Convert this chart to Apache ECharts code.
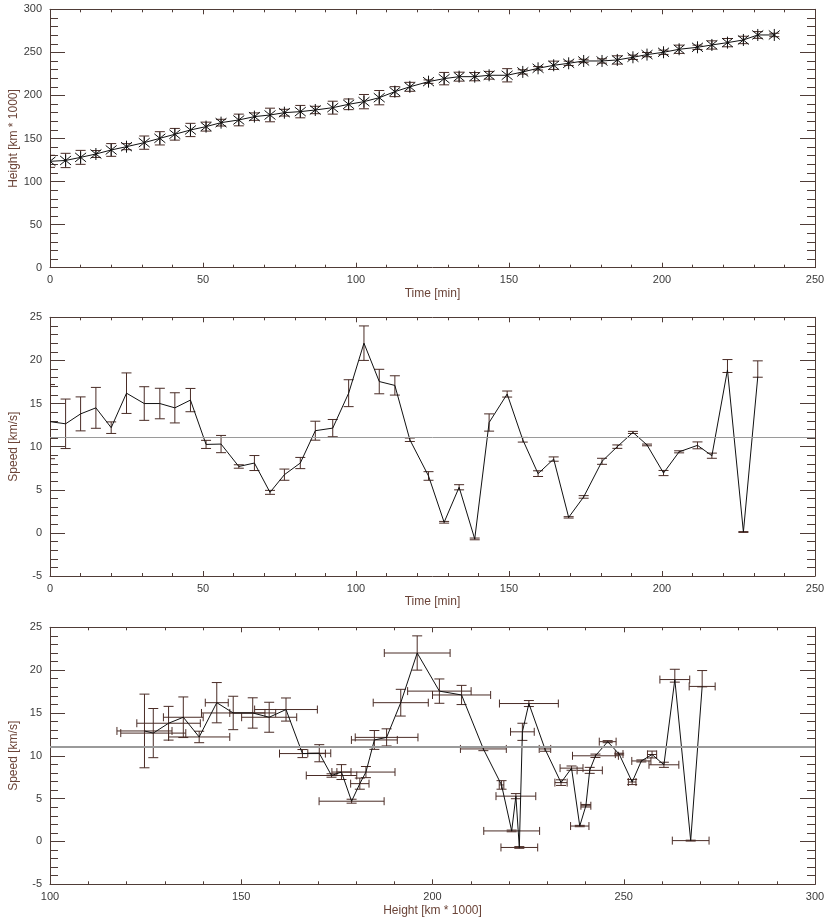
<!DOCTYPE html>
<html>
<head>
<meta charset="utf-8">
<script src="https://cdn.jsdelivr.net/npm/echarts@6/dist/echarts.min.js"></script>
<style>
html,body{margin:0;padding:0;background:#fff;}
#c{width:824px;height:918px;}
</style>
</head>
<body>
<div id="c"></div>
<script>
// ---- data ----
const times = [0, 5.1, 10, 15, 20, 25, 30.8, 35.9, 40.8, 45.9, 51, 55.9, 61.7, 66.8, 71.9, 76.6, 81.8, 86.7, 92.4, 97.6, 102.6, 107.6, 112.7, 117.6, 123.7, 128.8, 133.7, 138.8, 143.5, 149.4, 154.5, 159.5, 164.6, 169.5, 174.4, 180.4, 185.4, 190.5, 195.1, 200.5, 205.6, 211.6, 216.3, 221.4, 226.6, 231.3, 236.7];
const heights = [123.5, 124.5, 128.1, 132, 136.7, 140.5, 145.2, 150.2, 154.9, 159.9, 163.8, 168.4, 171.5, 175.4, 177.3, 180, 181.2, 183.1, 185.8, 189.7, 192.8, 197.4, 204.4, 210, 216, 219.5, 221.8, 221.8, 223.4, 223.4, 227.3, 231.5, 235, 237.3, 240, 240, 241.2, 244.3, 247.4, 250.1, 253.6, 255.9, 258.6, 261.3, 264.4, 270.2, 270.2];
const heightErr = [7, 8.3, 8.1, 4, 7.4, 3.5, 7.7, 7.7, 6.8, 7.7, 5.2, 3.9, 6.8, 4.3, 7.9, 3.9, 7.2, 4.3, 7.5, 6.2, 8.3, 8.3, 5.8, 5.2, 2, 7.2, 5.2, 4.8, 4.5, 7.7, 2.5, 2, 4.8, 2.5, 2, 2.5, 4.8, 2.5, 2.5, 2.5, 4.8, 2.5, 4.8, 4.8, 4.3, 3.9, 2];

const speedTimes = [0, 5.1, 10, 15, 20, 25, 30.8, 35.9, 40.8, 45.9, 51, 55.9, 61.7, 66.8, 71.9, 76.6, 81.8, 86.7, 92.4, 97.6, 102.6, 107.6, 112.7, 117.6, 123.7, 128.8, 133.7, 138.8, 143.5, 149.4, 154.5, 159.5, 164.6, 169.5, 174.4, 180.4, 185.4, 190.5, 195.1, 200.5, 205.6, 211.6, 216.3, 221.4, 226.6, 231.3];
const speeds = [12.9, 12.65, 13.8, 14.5, 12.2, 16.2, 15.0, 15.0, 14.5, 15.4, 10.26, 10.3, 7.7, 8.1, 4.7, 6.75, 8.1, 11.85, 12.15, 16.2, 22.0, 17.55, 17.1, 10.8, 6.6, 1.23, 5.29, -0.7, 12.8, 16.1, 10.8, 6.87, 8.56, 1.8, 4.17, 8.3, 10.0, 11.65, 10.2, 6.94, 9.4, 10.15, 8.95, 18.9, 0.1, 18.1];
const speedErrUp = [4.3, 2.87, 1.97, 2.37, 0.67, 2.35, 1.95, 1.77, 1.75, 1.35, 0.47, 1.0, 0.2, 0.87, 0.23, 0.65, 0.65, 1.1, 1.0, 1.56, 2.0, 1.42, 1.12, 0.2, 0.5, 0.1, 0.3, 0.1, 1.0, 0.35, 0.27, 0.33, 0.25, 0.08, 0.15, 0.35, 0.2, 0.12, 0.1, 0.3, 0.12, 0.4, 0.3, 1.2, 0.05, 1.85];
const speedErrDown = [4.3, 2.87, 1.97, 2.37, 0.67, 2.35, 1.95, 1.77, 1.75, 1.35, 0.47, 1.0, 0.2, 0.87, 0.23, 0.65, 0.65, 1.1, 1.0, 1.56, 2.0, 1.42, 1.12, 0.2, 0.5, 0.1, 0.3, 0.1, 1.0, 0.35, 0.27, 0.33, 0.25, 0.08, 0.15, 0.35, 0.2, 0.12, 0.1, 0.3, 0.12, 0.4, 0.3, 0.3, 0.05, 0.05];
const speedHeights = [124.7, 127.0, 131.0, 134.85, 139.0, 143.6, 147.9, 153.0, 157.3, 161.7, 166.0, 170.4, 173.6, 176.2, 178.85, 181.0, 182.6, 184.8, 188.0, 191.7, 196.0, 201.8, 207.6, 213.3, 218.05, 220.7, 221.8, 222.7, 223.5, 225.2, 229.4, 233.6, 236.35, 238.5, 240.1, 241.1, 242.6, 245.8, 248.8, 252.2, 254.6, 257.4, 260.5, 263.35, 267.5, 270.5];
const speedHeightErr = [7.2, 8.5, 8.3, 5.2, 8.0, 3, 8.3, 6, 7.2, 8.2, 6, 3, 6.6, 2.5, 8.5, 2.4, 7.6, 6, 8.2, 7.2, 8.6, 8.3, 7.6, 6, 0.6, 7.3, 5.2, 4.8, 3.1, 7.7, 1.5, 1.6, 3, 2.4, 1.3, 3.3, 6, 2.2, 1, 1, 2.5, 1.2, 3.9, 3.9, 4.8, 3.4];
const meanSpeed = 11.1;

const timeAxisTicks = {min: 0, max: 250, interval: 50};
const heightAxisTicks = {min: 0, max: 300, interval: 50};
const speedAxisTicks = {min: -5, max: 25, interval: 5};
const heightXAxisTicks = {min: 100, max: 300, interval: 50};

// ---- styles ----
const axisColor = '#4f3c37';
const labelColor = '#3a3a3a';
const nameColor = '#6b4438';
const barColor = '#4a2c26';
const FONT = 'Liberation Sans';

const chart = echarts.init(document.getElementById('c'), null, {renderer: 'canvas'});

function xAxisDef(g, ticks, name, pos) {
  const main = pos === 'bottom';
  return {
    gridIndex: g, type: 'value', position: pos,
    min: ticks.min, max: ticks.max, interval: ticks.interval,
    name: main ? name : '', nameLocation: 'middle', nameGap: 20, nameMoveOverlap: false,
    nameTextStyle: {color: nameColor, fontSize: 12, fontFamily: FONT},
    axisLine: {show: true, onZero: false, lineStyle: {color: axisColor, width: 1}},
    axisTick: {show: true, inside: true, length: 5, lineStyle: {color: axisColor, width: 1}},
    minorTick: {show: true, splitNumber: 5, length: 3, lineStyle: {color: axisColor, width: 1}},
    axisLabel: {show: main, margin: 7, color: labelColor, fontSize: 11, fontFamily: FONT},
    splitLine: {show: false}, minorSplitLine: {show: false}
  };
}
function yAxisDef(g, ticks, name, pos) {
  const main = pos === 'left';
  return {
    gridIndex: g, type: 'value', position: pos,
    min: ticks.min, max: ticks.max, interval: ticks.interval,
    name: main ? name : '', nameLocation: 'middle', nameGap: 30, nameMoveOverlap: false,
    nameTextStyle: {color: nameColor, fontSize: 12, fontFamily: FONT},
    axisLine: {show: true, onZero: false, lineStyle: {color: axisColor, width: 1}},
    axisTick: {show: true, inside: true, length: 15, lineStyle: {color: axisColor, width: 1}},
    minorTick: {show: true, splitNumber: 5, length: 8, lineStyle: {color: axisColor, width: 1}},
    axisLabel: {show: main, margin: 8, color: labelColor, fontSize: 11, fontFamily: FONT},
    splitLine: {show: false}, minorSplitLine: {show: false}
  };
}

function seg(a, b) {
  return {type: 'line', shape: {x1: a[0], y1: a[1], x2: b[0], y2: b[1]}, style: {stroke: barColor, lineWidth: 1}};
}
function segK(a, b) {
  return {type: 'line', shape: {x1: a[0], y1: a[1], x2: b[0], y2: b[1]}, style: {stroke: '#111', lineWidth: 1}};
}

// top: vertical error + asterisk
function renderTop(params, api) {
  const x = api.value(0), y = api.value(1), e = api.value(2);
  const p = api.coord([x, y]);
  const hi = api.coord([x, y + e]);
  const lo = api.coord([x, y - e]);
  const cw = 5;
  const ch = [
    seg(hi, lo),
    seg([hi[0] - cw, hi[1]], [hi[0] + cw, hi[1]]),
    seg([lo[0] - cw, lo[1]], [lo[0] + cw, lo[1]]),
    segK([p[0], p[1] - 6], [p[0], p[1] + 6]),
    segK([p[0] - 5.5, p[1] - 4.5], [p[0] + 5.5, p[1] + 4.5]),
    segK([p[0] - 5.5, p[1] + 4.5], [p[0] + 5.5, p[1] - 4.5])
  ];
  return {type: 'group', children: ch};
}
// middle: vertical error (asymmetric)
function renderMid(params, api) {
  const x = api.value(0), y = api.value(1), up = api.value(2), dn = api.value(3);
  const hi = api.coord([x, y + up]);
  const lo = api.coord([x, y - dn]);
  const cw = 5;
  return {type: 'group', children: [
    seg(hi, lo),
    seg([hi[0] - cw, hi[1]], [hi[0] + cw, hi[1]]),
    seg([lo[0] - cw, lo[1]], [lo[0] + cw, lo[1]])
  ]};
}
// bottom: x and y errors
function renderBot(params, api) {
  const x = api.value(0), y = api.value(1), xe = api.value(2), up = api.value(3), dn = api.value(4);
  const hi = api.coord([x, y + up]);
  const lo = api.coord([x, y - dn]);
  const le = api.coord([x - xe, y]);
  const ri = api.coord([x + xe, y]);
  const cw = 5, chh = 4;
  return {type: 'group', children: [
    seg(hi, lo),
    seg([hi[0] - cw, hi[1]], [hi[0] + cw, hi[1]]),
    seg([lo[0] - cw, lo[1]], [lo[0] + cw, lo[1]]),
    seg(le, ri),
    seg([le[0], le[1] - chh], [le[0], le[1] + chh]),
    seg([ri[0], ri[1] - chh], [ri[0], ri[1] + chh])
  ]};
}

const topData = times.map((t, i) => [t, heights[i], heightErr[i]]);
const midData = speedTimes.map((t, i) => [t, speeds[i], speedErrUp[i], speedErrDown[i]]);
const botData = speedHeights.map((h, i) => [h, speeds[i], speedHeightErr[i], speedErrUp[i], speedErrDown[i]]);

const meanLine = (w) => ({
  silent: true, symbol: 'none', label: {show: false},
  lineStyle: {color: '#9a9a9a', width: w, type: 'solid'},
  emphasis: {disabled: true},
  data: [{yAxis: meanSpeed}]
});

const option = {
  backgroundColor: '#fff',
  animation: false,
  grid: [
    {left: 50, right: 9, top: 9.3, height: 258.4, containLabel: false, outerBoundsMode: 'none'},
    {left: 50, right: 9, top: 317.3, height: 258.7, containLabel: false, outerBoundsMode: 'none'},
    {left: 50, right: 9, top: 627.3, height: 257, containLabel: false, outerBoundsMode: 'none'}
  ],
  xAxis: [
    xAxisDef(0, timeAxisTicks, 'Time [min]', 'bottom'),
    xAxisDef(0, timeAxisTicks, '', 'top'),
    xAxisDef(1, timeAxisTicks, 'Time [min]', 'bottom'),
    xAxisDef(1, timeAxisTicks, '', 'top'),
    xAxisDef(2, heightXAxisTicks, 'Height [km * 1000]', 'bottom'),
    xAxisDef(2, heightXAxisTicks, '', 'top')
  ],
  yAxis: [
    yAxisDef(0, heightAxisTicks, 'Height [km * 1000]', 'left'),
    yAxisDef(0, heightAxisTicks, '', 'right'),
    yAxisDef(1, speedAxisTicks, 'Speed [km/s]', 'left'),
    yAxisDef(1, speedAxisTicks, '', 'right'),
    yAxisDef(2, speedAxisTicks, 'Speed [km/s]', 'left'),
    yAxisDef(2, speedAxisTicks, '', 'right')
  ],
  series: [
    {type: 'custom', xAxisIndex: 0, yAxisIndex: 0, clip: true, renderItem: renderTop, encode: {x: 0, y: 1}, data: topData, silent: true},
    {type: 'line', xAxisIndex: 0, yAxisIndex: 0, data: times.map((t, i) => [t, heights[i]]), showSymbol: false, clip: true,
      lineStyle: {color: '#111', width: 1}, silent: true},
    {type: 'custom', xAxisIndex: 2, yAxisIndex: 2, clip: true, renderItem: renderMid, encode: {x: 0, y: 1}, data: midData, silent: true},
    {type: 'line', xAxisIndex: 2, yAxisIndex: 2, data: speedTimes.map((t, i) => [t, speeds[i]]), showSymbol: false, clip: true,
      lineStyle: {color: '#111', width: 1}, silent: true, markLine: meanLine(1)},
    {type: 'custom', xAxisIndex: 4, yAxisIndex: 4, clip: true, renderItem: renderBot, encode: {x: 0, y: 1}, data: botData, silent: true},
    {type: 'line', xAxisIndex: 4, yAxisIndex: 4, data: speedHeights.map((h, i) => [h, speeds[i]]), showSymbol: false, clip: true,
      lineStyle: {color: '#111', width: 1}, silent: true, markLine: meanLine(2)}
  ]
};
chart.setOption(option);
</script>
</body>
</html>
